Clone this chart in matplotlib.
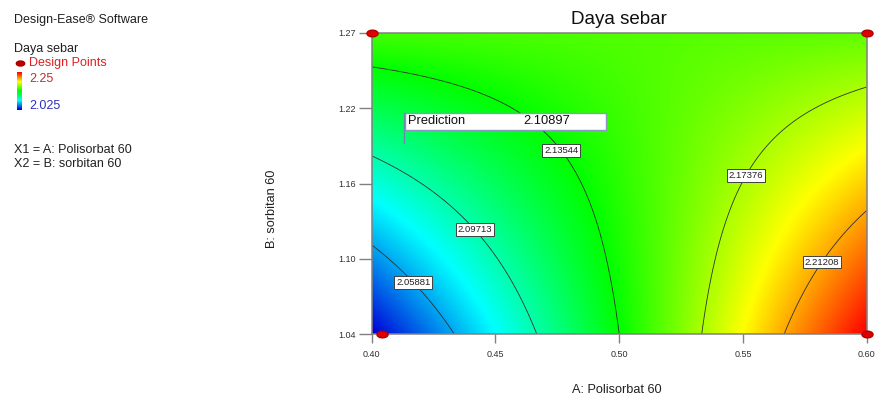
import numpy as np
import matplotlib
matplotlib.use("Agg")
import matplotlib.pyplot as plt
from matplotlib.colors import LinearSegmentedColormap
from matplotlib.path import Path
from matplotlib.patches import Rectangle
from matplotlib.transforms import IdentityTransform

plt.rcParams['font.family'] = ['Liberation Sans', 'DejaVu Sans']

# ---------------- data ----------------
x_range = [0.40, 0.60]          # A: Polisorbat 60
y_range = [1.04, 1.27]          # B: sorbitan 60
# fitted response-surface (coded units) for "Daya sebar"
coef_intercept = 2.14447
coef_A = 0.05923
coef_B = 0.00903
coef_AB = -0.05573
contour_levels = [2.05881, 2.09713, 2.13544, 2.17376, 2.21208]
x_tick_labels = ["0.40", "0.45", "0.50", "0.55", "0.60"]
y_tick_labels = ["1.04", "1.10", "1.16", "1.22", "1.27"]
design_x = [0.40, 0.60, 0.404, 0.60]
design_y = [1.27, 1.27, 1.04, 1.04]
pred_x = 0.413
pred_y = 1.186
pred_value = 2.10897
legend_hi = 2.25
legend_lo = 2.025

# ---------------- layout ----------------
W, H = 880, 398
def fx(px): return px / W
def fy(py): return 1 - py / H

fig = plt.figure(figsize=(W / 100, H / 100), dpi=100)
ax = fig.add_axes([fx(371.7), fy(334), (866.7 - 371.7) / W, (334 - 33) / H])

cmap = LinearSegmentedColormap.from_list(
    "de", [(0, 0, 0.85), (0, 1, 1), (0, 1, 0), (1, 1, 0), (1, 0, 0)])

xs = np.linspace(x_range[0], x_range[1], 300)
ys = np.linspace(y_range[0], y_range[1], 300)
X, Y = np.meshgrid(xs, ys)
A = (X - np.mean(x_range)) / ((x_range[1] - x_range[0]) / 2)
B = (Y - np.mean(y_range)) / ((y_range[1] - y_range[0]) / 2)
Z = coef_intercept + coef_A * A + coef_B * B + coef_AB * A * B
zmin, zmax = Z.min(), Z.max()

ax.imshow(Z, extent=[x_range[0], x_range[1], y_range[0], y_range[1]],
          origin='lower', aspect='auto', cmap=cmap, vmin=zmin, vmax=zmax,
          interpolation='bilinear')
cs = ax.contour(X, Y, Z, levels=contour_levels, colors='#303030', linewidths=0.6)

label_pos = [(0.4174, 1.0806), (0.4426, 1.1212), (0.4772, 1.181),
             (0.5500, 1.1623), (0.5812, 1.0958)]
texts = ax.clabel(cs, inline=False, fmt='%.5f', fontsize=6.8, manual=label_pos)
for t in texts:
    t.set_rotation(0)
    t.set_color('#202020')
    t.set_bbox(dict(boxstyle='square,pad=0.2', facecolor='white',
                    edgecolor='#404040', linewidth=0.7))

ax.set_xlim(x_range)
ax.set_ylim(y_range)
ax.set_xticks(np.linspace(x_range[0], x_range[1], len(x_tick_labels)))
ax.set_xticklabels(x_tick_labels)
ax.set_yticks(np.linspace(y_range[0], y_range[1], len(y_tick_labels)))
ax.set_yticklabels(y_tick_labels)
ax.tick_params(axis='x', direction='out', length=6.5, width=1.0, color='#808080',
               labelsize=6.5, labelcolor='#303030', pad=5)
ax.tick_params(axis='y', direction='out', length=9.5, width=1.0, color='#808080',
               labelsize=6.5, labelcolor='#303030', pad=2)
for s in ax.spines.values():
    s.set_color('#808080')
    s.set_linewidth(1.1)

# design points (ellipse markers)
theta = np.linspace(0, 2 * np.pi, 40)
ell = Path(np.column_stack([np.cos(theta) * 1.0, np.sin(theta) * 0.6]), closed=True)
ax.plot(design_x, design_y, linestyle='none', marker=ell, markersize=8,
        markerfacecolor='#e00000', markeredgecolor='#b00000', clip_on=False, zorder=5)

# prediction flag
fig.canvas.draw()
px, py = ax.transData.transform((pred_x, pred_y))
it = IdentityTransform()
fig.add_artist(plt.Line2D([px, px], [py, py + 30], color='#7088b0', lw=1.0,
                          transform=it))
fig.add_artist(Rectangle((px + 1, py + 13), 201, 17, facecolor='white',
                         edgecolor='#8898c0', lw=1.0, transform=it))
fig.text(px + 4, py + 21.5, "Prediction", transform=it, fontsize=9.3,
         va='center', ha='left', color='#101010')
fig.text(px + 119, py + 21.5, f"{pred_value:.5f}", transform=it, fontsize=9.3,
         va='center', ha='left', color='#101010')

# titles / labels
fig.text(fx(619), fy(19), "Daya sebar", fontsize=13.5, ha='center', va='center',
         color='#101010')
fig.text(fx(617), fy(390), "A: Polisorbat 60", fontsize=9.2, ha='center',
         va='center', color='#202020')
fig.text(fx(272), fy(209), "B: sorbitan 60", fontsize=9.2, ha='center',
         va='center', rotation=90, color='#202020')

# left info panel
fig.text(fx(14), fy(20), "Design-Ease® Software", fontsize=9, va='center',
         color='#202020')
fig.text(fx(14), fy(49), "Daya sebar", fontsize=9, va='center', color='#202020')
fig.text(fx(29), fy(63), "Design Points", fontsize=9, va='center', color='#e02020')
fig.add_artist(plt.Line2D([fx(19.5)], [fy(63)], marker=ell, markersize=6,
                          markerfacecolor='#c00000', markeredgecolor='#a00000',
                          linestyle='none'))
cax = fig.add_axes([fx(16.5), fy(110), 4.5 / W, 38 / H])
grad = np.linspace(0, 1, 100).reshape(-1, 1)
cax.imshow(grad, origin='lower', aspect='auto', cmap=cmap)
cax.set_axis_off()
fig.text(fx(29), fy(79), f"{legend_hi:g}", fontsize=9, va='center', color='#c03030')
fig.text(fx(29), fy(106), f"{legend_lo:g}", fontsize=9, va='center', color='#3030c0')
fig.text(fx(14), fy(150), "X1 = A: Polisorbat 60", fontsize=9, va='center',
         color='#202020')
fig.text(fx(14), fy(164), "X2 = B: sorbitan 60", fontsize=9, va='center',
         color='#202020')

fig.savefig("out.png", dpi=100)
